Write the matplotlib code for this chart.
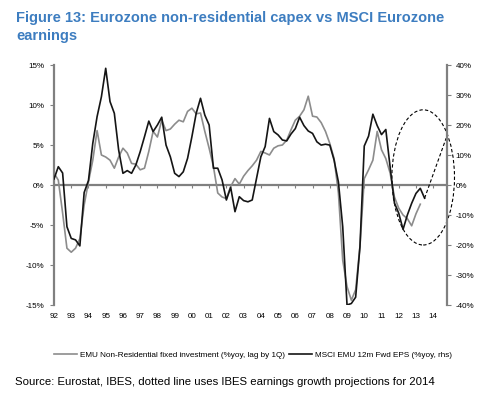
import numpy as np
import matplotlib
matplotlib.use("Agg")
import matplotlib.pyplot as plt
from matplotlib.patches import Ellipse

# EMU non-residential fixed investment, %yoy lagged 1Q (lhs), quarterly from 1992Q1
capex = [
    1.5, 0.6, -3.5, -7.9, -8.4, -7.9, -6.7, -2.5,
    0.4, 3.1, 6.8, 3.75, 3.5, 3.1, 2.1, 3.5,
    4.6, 4.0, 2.7, 2.6, 1.9, 2.1, 4.2, 6.7,
    6.0, 8.1, 6.8, 7.0, 7.6, 8.1, 7.9, 9.2,
    9.6, 8.9, 9.0, 6.7, 4.6, 2.3, -1.0, -1.5,
    -1.7, -0.2, 0.8, 0.1, 1.1, 1.8, 2.4, 3.1,
    4.2, 4.0, 3.75, 4.6, 4.9, 5.0, 5.6, 6.9,
    8.1, 8.6, 9.4, 11.1, 8.6, 8.5, 7.8, 6.7,
    5.2, 3.3, -1.0, -9.4, -12.7, -14.4, -13.1, -7.7,
    0.8, 1.9, 3.1, 6.7, 4.4, 3.3, 1.5, -1.5,
    -2.9, -3.75, -4.2, -5.1, -3.6, -2.4,
]

# MSCI EMU 12m forward EPS, %yoy (rhs), quarterly from 1992Q1
eps = [
    2.0, 6.1, 4.0, -13.9, -17.8, -18.3, -20.3, -2.5,
    1.5, 13.9, 22.8, 29.4, 38.9, 27.8, 23.9, 11.7,
    3.9, 4.8, 3.9, 6.7, 11.1, 16.1, 21.3, 17.8,
    20.0, 22.6, 13.3, 9.4, 3.9, 2.8, 4.4, 8.9,
    16.1, 23.9, 28.9, 23.3, 20.0, 5.6, 5.6, 1.7,
    -5.0, -0.8, -8.9, -3.9, -5.2, -5.6, -5.0, 2.2,
    9.4, 12.8, 22.2, 17.8, 16.7, 15.0, 14.7, 17.0,
    18.8, 22.6, 19.8, 18.0, 17.2, 14.4, 13.3, 13.6,
    13.3, 8.3, 1.0, -13.9, -40.0, -39.5, -37.4, -20.6,
    13.0, 16.3, 23.6, 19.8, 16.8, 18.5, 6.0, -6.0,
    -9.4, -14.8, -10.0, -6.1, -2.8, -1.1, -4.4,
]

# IBES based projection of EPS growth (dotted), 2013Q3 to 2014Q4
proj_x = [2013.5, 2013.75, 2014.0, 2014.25, 2014.5, 2014.75]
proj_eps = [-4.4, -0.4, 3.6, 7.6, 11.6, 15.6]

year_ticks = list(range(1992, 2015))
year_labels = ["%02d" % (y % 100) for y in year_ticks]
lhs_ticks = [-15, -10, -5, 0, 5, 10, 15]
rhs_ticks = [-40, -30, -20, -10, 0, 10, 20, 30, 40]

# the circle drawn around the recent period (year, lhs units)
circle_centre = (2013.42, 0.95)
circle_size = (3.63, 16.9)

plt.rcParams["font.family"] = ["Liberation Sans", "DejaVu Sans"]

spine_grey = "#808080"
fig = plt.figure(figsize=(4.84, 3.94), dpi=100)
ax = fig.add_axes([54 / 484, 1 - 305 / 394, (447 - 54) / 484, 240 / 394])
ax2 = ax.twinx()

t_capex = 1992 + np.arange(len(capex)) / 4.0
t_eps = 1992 + np.arange(len(eps)) / 4.0

ax.axhline(0, color=spine_grey, lw=1.6, zorder=1)
ax.vlines(year_ticks, -0.35, 0, color=spine_grey, lw=0.8, zorder=1)
l1, = ax.plot(t_capex, capex, color="#8c8c8c", lw=1.2, zorder=2)
l2, = ax2.plot(t_eps, eps, color="#151515", lw=1.2)
ax2.plot(proj_x, proj_eps, color="black", lw=0.8, ls=(0, (3, 2)))
# ellipse height converted from lhs to rhs units
ax2.add_patch(Ellipse((circle_centre[0], circle_centre[1] * 8 / 3),
                      circle_size[0], circle_size[1] * 8 / 3,
                      fill=False, ec="black", lw=0.8, ls=(0, (3, 2)),
                      clip_on=False))

ax.set_xlim(1992, 2014.8)
ax.set_ylim(-15, 15)
ax2.set_ylim(-40, 40)

ax.set_xticks(year_ticks)
ax.set_xticklabels(year_labels)
ax.tick_params(axis="x", length=0, pad=6, labelsize=5.8)
ax.set_yticks(lhs_ticks)
ax.set_yticklabels(["%d%%" % v for v in lhs_ticks])
ax.tick_params(axis="y", length=3, width=0.8, color=spine_grey, pad=4,
               labelsize=5.8)
ax2.set_yticks(rhs_ticks)
ax2.set_yticklabels(["%d%%" % v for v in rhs_ticks])
ax2.tick_params(axis="y", length=3, width=0.8, color=spine_grey, pad=3,
                labelsize=5.8)

for a in (ax, ax2):
    a.spines["top"].set_visible(False)
    a.spines["bottom"].set_visible(False)
ax.spines["right"].set_visible(False)
ax2.spines["left"].set_visible(False)
ax.spines["left"].set_color(spine_grey)
ax.spines["left"].set_linewidth(1.6)
ax2.spines["right"].set_color(spine_grey)
ax2.spines["right"].set_linewidth(1.6)

fig.text(16 / 484, 1 - 11 / 394,
         "Figure 13: Eurozone non-residential capex vs MSCI Eurozone\nearnings",
         ha="left", va="top", fontsize=10.5, fontweight="bold",
         color="#3d7dc0", linespacing=1.4)

fig.legend([l1, l2],
           ["EMU Non-Residential fixed investment (%yoy, lag by 1Q)",
            "MSCI EMU 12m Fwd EPS (%yoy, rhs)"],
           loc="center", bbox_to_anchor=(253 / 484, 1 - 355 / 394), ncol=2,
           frameon=False, fontsize=5.9, handlelength=2.8, handletextpad=0.4,
           columnspacing=0.4)

fig.text(15 / 484, 1 - 382 / 394,
         "Source: Eurostat, IBES, dotted line uses IBES earnings growth projections for 2014",
         ha="left", va="center", fontsize=8.2)

fig.savefig("out.png", dpi=100)
